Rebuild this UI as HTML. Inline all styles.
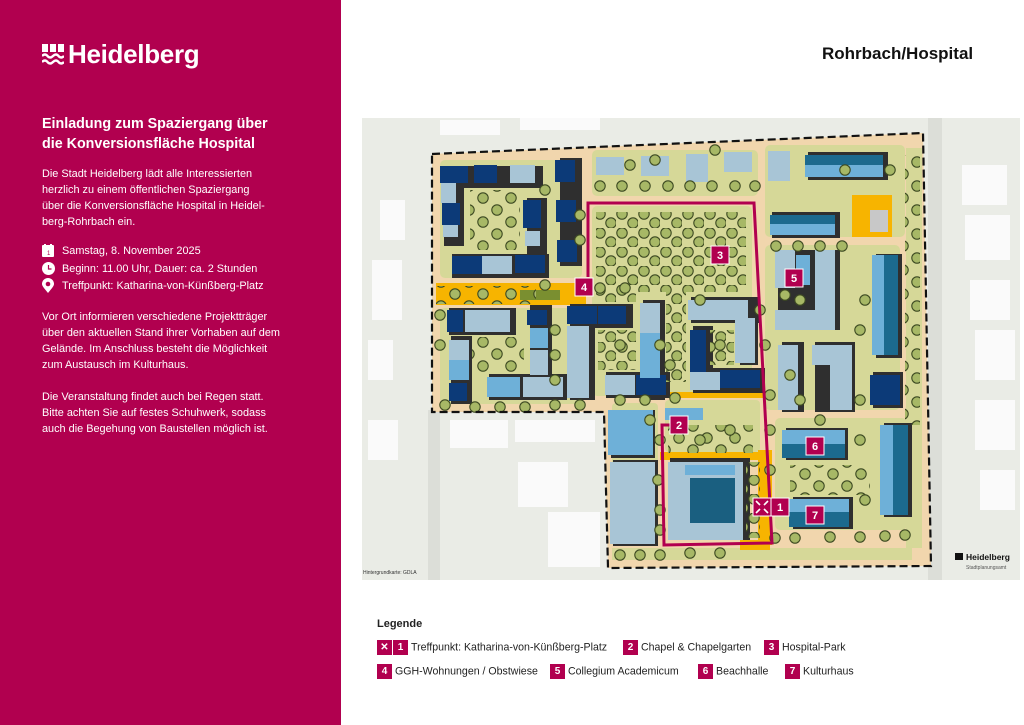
<!DOCTYPE html>
<html><head><meta charset="utf-8">
<style>
*{margin:0;padding:0;box-sizing:border-box}
body{width:1024px;height:725px;background:#fff;position:relative;overflow:hidden;font-family:"Liberation Sans",sans-serif}
#left{position:absolute;left:0;top:0;width:341px;height:725px;background:#b1004f;color:#fff}
.logo{position:absolute;left:42px;top:40px;font-size:26px;font-weight:bold;letter-spacing:-0.3px}
.logo span{position:absolute;left:26px;top:0;line-height:28px}
h1{position:absolute;left:42px;top:114px;font-size:14.3px;line-height:20px;font-weight:bold}
.p{position:absolute;left:42px;font-size:10.9px;line-height:16px}
.ev{position:absolute;left:62px;font-size:10.9px;line-height:16px}
.ic{position:absolute;left:42px}
#title{position:absolute;left:822px;top:44px;font-size:17px;font-weight:bold;color:#111}
#legend{position:absolute;left:377px;top:617px;font-size:10.6px;color:#222}
.li{position:absolute;white-space:nowrap;line-height:14px}
.b{display:inline-block;width:15px;height:15px;background:#b1004f;color:#fff;font-weight:bold;text-align:center;font-size:10px;line-height:15px;vertical-align:middle;margin-right:3px}
</style></head><body>
<div id="left">
  <div class="logo">
    <svg width="22" height="22" viewBox="0 0 22 22" style="position:absolute;left:0;top:4px">
      <g fill="#fff"><rect x="0" y="0" width="6" height="8"/><rect x="8" y="0" width="6" height="8"/><rect x="16" y="0" width="6" height="8"/></g>
      <g fill="none" stroke="#fff" stroke-width="2.4"><path d="M0 12 q3 -3 5.5 0 t5.5 0 t5.5 0 t5.5 0"/><path d="M0 18 q3 -3 5.5 0 t5.5 0 t5.5 0 t5.5 0"/></g>
    </svg>
    <span>Heidelberg</span>
  </div>
  <h1>Einladung zum Spaziergang über<br>die Konversionsfläche Hospital</h1>
  <div class="p" style="top:166px">Die Stadt Heidelberg lädt alle Interessierten<br>herzlich zu einem öffentlichen Spaziergang<br>über die Konversionsfläche Hospital in Heidel-<br>berg-Rohrbach ein.</div>
  <svg class="ic" style="top:244px" width="12" height="13"><rect x="0" y="1" width="12" height="12" rx="1" fill="#fff"/><rect x="2" y="0" width="2" height="3" fill="#fff"/><rect x="8" y="0" width="2" height="3" fill="#fff"/><text x="5" y="11" font-size="6" fill="#b1004f" font-family="Liberation Sans">1</text></svg>
  <svg class="ic" style="top:262px" width="13" height="13"><circle cx="6.5" cy="6.5" r="6.5" fill="#fff"/><path d="M6.5 3v4h3" stroke="#b1004f" fill="none" stroke-width="1.2"/></svg>
  <svg class="ic" style="top:278px" width="12" height="15"><path d="M6 15 C2 10 0 8 0 6 A6 6 0 0 1 12 6 C12 8 10 10 6 15Z" fill="#fff"/><circle cx="6" cy="6" r="2.3" fill="#b1004f"/></svg>
  <div class="ev" style="top:243px">Samstag, 8. November 2025</div>
  <div class="ev" style="top:261px">Beginn: 11.00 Uhr, Dauer: ca. 2 Stunden</div>
  <div class="ev" style="top:278px">Treffpunkt: Katharina-von-Künßberg-Platz</div>
  <div class="p" style="top:309px">Vor Ort informieren verschiedene Projektträger<br>über den aktuellen Stand ihrer Vorhaben auf dem<br>Gelände. Im Anschluss besteht die Möglichkeit<br>zum Austausch im Kulturhaus.</div>
  <div class="p" style="top:389px">Die Veranstaltung findet auch bei Regen statt.<br>Bitte achten Sie auf festes Schuhwerk, sodass<br>auch die Begehung von Baustellen möglich ist.</div>
</div>
<div id="title">Rohrbach/Hospital</div>

<svg width="1024" height="725" style="position:absolute;left:0;top:0">
<defs>
  <pattern id="tr" width="22" height="19" patternUnits="userSpaceOnUse">
    <circle cx="6" cy="5" r="5.2" fill="#a7b866" stroke="#3d4a22" stroke-width="1.1"/>
    <circle cx="17" cy="14" r="5.2" fill="#a7b866" stroke="#3d4a22" stroke-width="1.1"/>
  </pattern>
  <pattern id="tr2" width="28" height="24" patternUnits="userSpaceOnUse">
    <circle cx="7" cy="6" r="5.2" fill="#a7b866" stroke="#3d4a22" stroke-width="1.1"/>
    <circle cx="21" cy="18" r="5.2" fill="#a7b866" stroke="#3d4a22" stroke-width="1.1"/>
  </pattern>
  <g id="t"><circle r="5.2" fill="#a7b866" stroke="#3d4a22" stroke-width="1.1"/></g>
</defs>
<!-- map background -->
<rect x="362" y="118" width="658" height="462" fill="#eaece6"/>
<g fill="#fafafa">
  <rect x="440" y="120" width="60" height="15"/><rect x="520" y="118" width="80" height="12"/>
  <rect x="380" y="200" width="25" height="40"/><rect x="372" y="260" width="30" height="60"/>
  <rect x="368" y="340" width="25" height="40"/><rect x="368" y="420" width="30" height="40"/>
  <rect x="450" y="420" width="40" height="28"/><rect x="478" y="420" width="30" height="28"/>
  <rect x="515" y="420" width="80" height="22"/><rect x="518" y="462" width="50" height="45"/>
  <rect x="548" y="512" width="52" height="55"/>
  <rect x="962" y="165" width="45" height="40"/><rect x="965" y="215" width="45" height="45"/>
  <rect x="970" y="280" width="40" height="40"/><rect x="975" y="330" width="40" height="50"/>
  <rect x="975" y="400" width="40" height="50"/><rect x="980" y="470" width="35" height="40"/>
</g>
<rect x="428" y="410" width="12" height="170" fill="#dcded8"/>
<rect x="928" y="118" width="14" height="462" fill="#dcded8"/>
<!-- site ground -->
<polygon points="432,154 923,133 931,566 608,568 604,412 432,412" fill="#f1d6ad"/>
<!-- lawns -->
<g fill="#d6d898">
  <rect x="440" y="160" width="142" height="118" rx="5"/>
  <rect x="592" y="150" width="166" height="46" rx="5"/>
  <rect x="592" y="206" width="160" height="190" rx="5"/>
  <rect x="440" y="308" width="140" height="96" rx="5"/>
  <rect x="765" y="145" width="140" height="92" rx="5"/>
  <rect x="765" y="245" width="135" height="165" rx="5"/>
  <rect x="775" y="418" width="132" height="112" rx="5"/>
  <rect x="612" y="403" width="46" height="140" rx="4"/>
  <rect x="665" y="400" width="95" height="52" rx="4"/>
  <rect x="906" y="148" width="16" height="400"/>
  <rect x="612" y="548" width="300" height="12"/>
</g>
<!-- orange paths -->
<g fill="#f7b400">
  <rect x="436" y="283" width="150" height="22"/>
  <rect x="660" y="452" width="112" height="8"/>
  <rect x="665" y="392" width="100" height="6"/>
  <rect x="758" y="450" width="14" height="95"/>
  <rect x="740" y="540" width="30" height="10"/>
  <rect x="852" y="195" width="40" height="42"/>
</g>
<rect x="870" y="210" width="18" height="22" fill="#c8c8c8"/>
<rect x="520" y="290" width="40" height="10" fill="#7a8f30"/>
<!-- shadows -->
<g fill="#2f2f2f">
  <rect x="443" y="166" width="100" height="22"/><rect x="444" y="186" width="20" height="60"/>
  <rect x="527" y="198" width="20" height="60"/><rect x="452" y="254" width="97" height="24"/>
  <rect x="560" y="158" width="22" height="108"/>
  <rect x="449" y="308" width="67" height="27"/><rect x="451" y="336" width="21" height="68"/>
  <rect x="489" y="374" width="78" height="26"/><rect x="530" y="305" width="22" height="85"/>
  <rect x="570" y="304" width="63" height="24"/><rect x="570" y="320" width="25" height="80"/>
  <rect x="643" y="300" width="22" height="100"/><rect x="606" y="372" width="64" height="26"/>
  <rect x="691" y="297" width="68" height="26"/><rect x="740" y="315" width="18" height="50"/>
  <rect x="693" y="326" width="20" height="52"/><rect x="693" y="368" width="72" height="25"/>
  <rect x="808" y="152" width="80" height="28"/><rect x="772" y="212" width="68" height="26"/>
  <rect x="778" y="250" width="62" height="80"/><rect x="876" y="254" width="26" height="104"/>
  <rect x="782" y="342" width="22" height="70"/><rect x="815" y="342" width="40" height="70"/>
  <rect x="873" y="372" width="30" height="36"/><rect x="884" y="423" width="28" height="94"/>
  <rect x="786" y="428" width="62" height="32"/><rect x="793" y="497" width="60" height="32"/>
  <rect x="611" y="410" width="44" height="48"/><rect x="613" y="460" width="45" height="86"/>
  <rect x="670" y="458" width="80" height="82"/>
</g>
<!-- buildings -->
<g fill="#0c3a78">
  <rect x="440" y="166" width="28" height="17"/><rect x="474" y="165" width="23" height="18"/>
  <rect x="442" y="203" width="18" height="22"/><rect x="523" y="200" width="18" height="28"/>
  <rect x="555" y="160" width="20" height="22"/><rect x="556" y="200" width="20" height="22"/>
  <rect x="557" y="240" width="20" height="22"/><rect x="452" y="256" width="30" height="18"/>
  <rect x="515" y="255" width="30" height="18"/>
  <rect x="447" y="310" width="16" height="22"/><rect x="449" y="383" width="18" height="18"/>
  <rect x="527" y="310" width="20" height="15"/>
  <rect x="567" y="306" width="30" height="18"/><rect x="598" y="306" width="28" height="18"/>
  <rect x="636" y="375" width="30" height="20"/>
  <rect x="690" y="330" width="16" height="45"/><rect x="720" y="370" width="40" height="18"/>
  <rect x="870" y="375" width="30" height="30"/>
</g>
<g fill="#a8c5d6">
  <rect x="510" y="165" width="25" height="18"/><rect x="441" y="183" width="15" height="20"/>
  <rect x="443" y="225" width="15" height="12"/><rect x="525" y="231" width="15" height="15"/>
  <rect x="482" y="256" width="30" height="18"/>
  <rect x="596" y="157" width="28" height="18"/><rect x="641" y="156" width="28" height="20"/>
  <rect x="686" y="154" width="22" height="28"/><rect x="724" y="152" width="28" height="20"/>
  <rect x="768" y="151" width="22" height="30"/>
  <rect x="465" y="310" width="45" height="22"/><rect x="449" y="340" width="20" height="20"/>
  <rect x="523" y="377" width="40" height="20"/><rect x="530" y="350" width="18" height="25"/>
  <rect x="567" y="326" width="22" height="30"/><rect x="567" y="356" width="22" height="42"/>
  <rect x="640" y="303" width="20" height="30"/><rect x="605" y="375" width="30" height="20"/>
  <rect x="688" y="300" width="60" height="20"/><rect x="735" y="318" width="20" height="45"/>
  <rect x="690" y="372" width="30" height="18"/>
  <rect x="775" y="250" width="20" height="38"/><rect x="815" y="250" width="20" height="75"/>
  <rect x="775" y="310" width="60" height="20"/>
  <rect x="778" y="345" width="20" height="65"/><rect x="812" y="345" width="40" height="20"/>
  <rect x="830" y="345" width="22" height="65"/>
  <rect x="610" y="462" width="45" height="82"/>
  <rect x="668" y="462" width="75" height="78"/>
</g>
<g fill="#6eb0d8">
  <rect x="449" y="360" width="20" height="20"/><rect x="487" y="377" width="33" height="20"/>
  <rect x="530" y="328" width="18" height="20"/><rect x="640" y="333" width="20" height="45"/>
  <rect x="608" y="410" width="45" height="45"/><rect x="796" y="255" width="14" height="30"/>
  <rect x="665" y="408" width="38" height="12"/>
</g>
<g>
  <rect x="805" y="155" width="78" height="22" fill="#6eb0d8"/><rect x="805" y="155" width="78" height="10" fill="#1c6a8e"/>
  <rect x="770" y="215" width="65" height="20" fill="#6eb0d8"/><rect x="770" y="215" width="65" height="9" fill="#1c6a8e"/>
  <rect x="872" y="255" width="26" height="100" fill="#6eb0d8"/><rect x="884" y="255" width="14" height="100" fill="#1c6a8e"/>
  <rect x="880" y="425" width="28" height="90" fill="#6eb0d8"/><rect x="893" y="425" width="15" height="90" fill="#1c6a8e"/>
  <rect x="782" y="430" width="63" height="28" fill="#6eb0d8"/><rect x="782" y="444" width="63" height="14" fill="#1c6a8e"/>
  <rect x="789" y="499" width="60" height="28" fill="#6eb0d8"/><rect x="789" y="512" width="60" height="15" fill="#1c6a8e"/>
  <rect x="690" y="478" width="45" height="45" fill="#1a5f80"/>
  <rect x="685" y="465" width="50" height="10" fill="#6eb0d8"/>
</g>
<!-- trees dense -->
<g>
  <rect x="596" y="212" width="150" height="80" fill="url(#tr)"/>
  <rect x="596" y="292" width="40" height="10" fill="url(#tr)"/>
  <rect x="666" y="292" width="20" height="90" fill="url(#tr)"/>
  <rect x="470" y="190" width="50" height="60" fill="url(#tr2)"/>
  <rect x="436" y="286" width="100" height="18" fill="url(#tr2)"/>
  <rect x="472" y="337" width="52" height="35" fill="url(#tr2)"/>
  <rect x="598" y="330" width="38" height="40" fill="url(#tr)"/>
  <rect x="710" y="330" width="24" height="35" fill="url(#tr)"/>
  <rect x="668" y="425" width="85" height="28" fill="url(#tr2)"/>
  <rect x="746" y="462" width="14" height="76" fill="url(#tr)"/>
  <rect x="790" y="465" width="80" height="30" fill="url(#tr2)"/>
  <rect x="905" y="155" width="15" height="270" fill="url(#tr2)"/>
</g>
<g>
  <use href="#t" x="620" y="555"/><use href="#t" x="640" y="555"/><use href="#t" x="660" y="555"/><use href="#t" x="690" y="553"/><use href="#t" x="720" y="553"/>
  <use href="#t" x="775" y="538"/><use href="#t" x="795" y="538"/><use href="#t" x="830" y="537"/><use href="#t" x="860" y="537"/><use href="#t" x="885" y="536"/><use href="#t" x="905" y="535"/>
  <use href="#t" x="445" y="405"/><use href="#t" x="475" y="407"/><use href="#t" x="500" y="407"/><use href="#t" x="525" y="407"/><use href="#t" x="555" y="405"/><use href="#t" x="580" y="405"/>
  <use href="#t" x="620" y="400"/><use href="#t" x="645" y="400"/><use href="#t" x="675" y="398"/>
  <use href="#t" x="650" y="420"/><use href="#t" x="660" y="440"/><use href="#t" x="658" y="480"/><use href="#t" x="660" y="510"/><use href="#t" x="660" y="530"/>
  <use href="#t" x="555" y="330"/><use href="#t" x="555" y="355"/><use href="#t" x="555" y="380"/>
  <use href="#t" x="660" y="345"/><use href="#t" x="670" y="365"/><use href="#t" x="760" y="310"/><use href="#t" x="765" y="345"/><use href="#t" x="770" y="395"/>
  <use href="#t" x="800" y="400"/><use href="#t" x="820" y="420"/><use href="#t" x="860" y="400"/><use href="#t" x="865" y="300"/><use href="#t" x="860" y="330"/>
  <use href="#t" x="790" y="375"/><use href="#t" x="770" y="430"/><use href="#t" x="770" y="470"/><use href="#t" x="860" y="440"/><use href="#t" x="865" y="500"/>
  <use href="#t" x="785" y="295"/><use href="#t" x="800" y="300"/><use href="#t" x="600" y="288"/><use href="#t" x="625" y="288"/><use href="#t" x="545" y="285"/>
  <use href="#t" x="580" y="215"/><use href="#t" x="545" y="190"/><use href="#t" x="580" y="240"/><use href="#t" x="440" y="315"/><use href="#t" x="440" y="345"/>
  <use href="#t" x="655" y="160"/><use href="#t" x="630" y="165"/><use href="#t" x="715" y="150"/><use href="#t" x="845" y="170"/><use href="#t" x="890" y="170"/>
  <use href="#t" x="600" y="186"/><use href="#t" x="622" y="186"/><use href="#t" x="645" y="186"/><use href="#t" x="668" y="186"/><use href="#t" x="690" y="186"/><use href="#t" x="712" y="186"/><use href="#t" x="735" y="186"/><use href="#t" x="755" y="186"/>
  <use href="#t" x="776" y="246"/><use href="#t" x="798" y="246"/><use href="#t" x="820" y="246"/><use href="#t" x="842" y="246"/>
  <use href="#t" x="700" y="300"/><use href="#t" x="720" y="345"/><use href="#t" x="620" y="345"/><use href="#t" x="700" y="440"/><use href="#t" x="730" y="430"/>
</g>
<polyline points="432,154 923,133 931,566 608,568 604,412 432,412 432,154" fill="none" stroke="#111" stroke-width="2.2" stroke-dasharray="8,4"/>
<polyline points="588,277 588,203 754,203 772,543 664,545 662,425 675,425" fill="none" stroke="#b1004f" stroke-width="3"/>
<g font-family="Liberation Sans" font-weight="bold" font-size="11" fill="#fff" text-anchor="middle">
  <rect x="711" y="246" width="18" height="18" fill="#b1004f" stroke="#fff"/><text x="720" y="259">3</text>
  <rect x="575" y="278" width="18" height="18" fill="#b1004f" stroke="#fff"/><text x="584" y="291">4</text>
  <rect x="785" y="269" width="18" height="18" fill="#b1004f" stroke="#fff"/><text x="794" y="282">5</text>
  <rect x="670" y="416" width="18" height="18" fill="#b1004f" stroke="#fff"/><text x="679" y="429">2</text>
  <rect x="806" y="437" width="18" height="18" fill="#b1004f" stroke="#fff"/><text x="815" y="450">6</text>
  <rect x="806" y="506" width="18" height="18" fill="#b1004f" stroke="#fff"/><text x="815" y="519">7</text>
  <rect x="771" y="498" width="18" height="18" fill="#b1004f" stroke="#fff"/><text x="780" y="511">1</text>
  <rect x="753" y="498" width="18" height="18" fill="#b1004f" stroke="#fff"/>
  <g stroke="#fff" stroke-width="1.6"><path d="M756 501l4 4M768 501l-4 4M756 513l4-4M768 513l-4-4"/></g>
</g>
<text x="363" y="574" font-family="Liberation Sans" font-size="5" fill="#333">Hintergrundkarte: GDLA</text>
<rect x="955" y="553" width="8" height="7" fill="#111"/>
<text x="966" y="560" font-family="Liberation Sans" font-weight="bold" font-size="8.5" fill="#111">Heidelberg</text>
<text x="966" y="569" font-family="Liberation Sans" font-size="5" fill="#555">Stadtplanungsamt</text>
</svg>

<div id="legend">
  <div class="li" style="left:0;top:0;font-weight:bold;font-size:11px">Legende</div>
  <div class="li" style="left:0;top:23px"><span class="b" style="margin-right:1px">✕</span><span class="b">1</span>Treffpunkt: Katharina-von-Künßberg-Platz</div>
  <div class="li" style="left:246px;top:23px"><span class="b">2</span>Chapel &amp; Chapelgarten</div>
  <div class="li" style="left:387px;top:23px"><span class="b">3</span>Hospital-Park</div>
  <div class="li" style="left:0;top:47px"><span class="b">4</span>GGH-Wohnungen / Obstwiese</div>
  <div class="li" style="left:173px;top:47px"><span class="b">5</span>Collegium Academicum</div>
  <div class="li" style="left:321px;top:47px"><span class="b">6</span>Beachhalle</div>
  <div class="li" style="left:408px;top:47px"><span class="b">7</span>Kulturhaus</div>
</div>
</body></html>
